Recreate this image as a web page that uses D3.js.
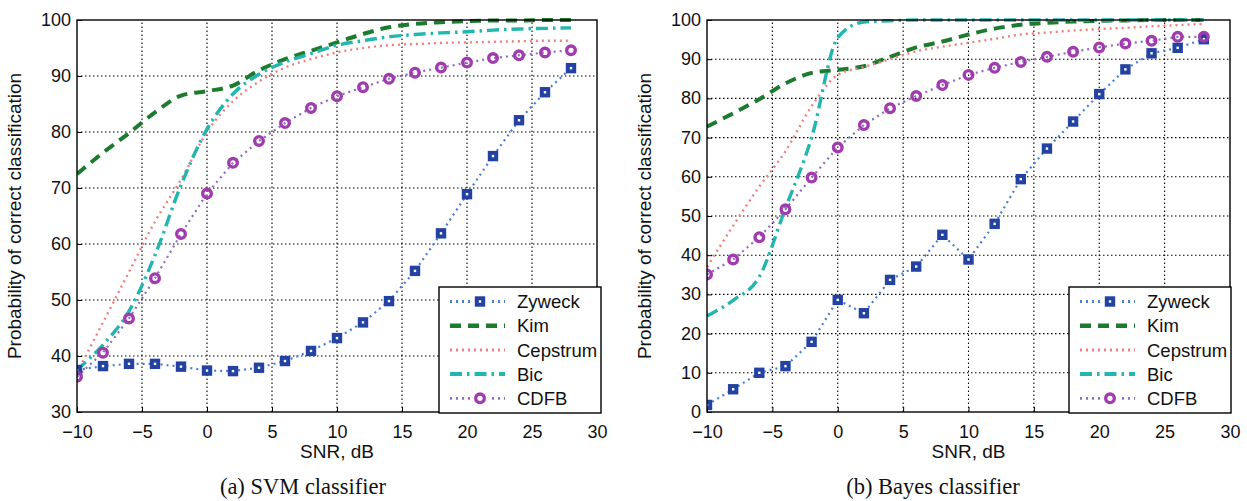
<!DOCTYPE html>
<html><head><meta charset="utf-8">
<script src="https://cdn.jsdelivr.net/npm/d3@7"></script>
<style>
body{margin:0;background:#fff;}
svg{display:block;font-family:"Liberation Sans",Arial,Helvetica,sans-serif;}
</style>
</head><body>
<svg id="chart" width="1247" height="501"></svg>
<script>
// ---------------- data ----------------
const snr = [-10,-8,-6,-4,-2,0,2,4,6,8,10,12,14,16,18,20,22,24,26,28];
const seriesNames = ["Zyweck","Kim","Cepstrum","Bic","CDFB"];
const xTickValues = [-10,-5,0,5,10,15,20,25,30];
const yTicksSvm = [30,40,50,60,70,80,90,100];
const yTicksBayes = [0,10,20,30,40,50,60,70,80,90,100];
const captions = ["(a) SVM classifier","(b) Bayes classifier"];
const xLabel = "SNR, dB";
const yLabel = "Probability of correct classification";

// (a) SVM classifier
const svmZyweck   = [37.5,38.2,38.6,38.6,38.1,37.4,37.3,37.9,39.1,40.9,43.2,46.0,49.8,55.2,61.9,68.9,75.7,82.1,87.1,91.4];
const svmKim      = [72.5,76.3,79.8,83.5,86.5,87.3,88.3,91.0,93.0,94.5,96.0,97.5,98.7,99.3,99.6,99.8,99.9,99.9,100,100];
const svmCepstrum = [37.0,46.0,55.0,64.0,71.5,80.0,85.5,89.0,91.5,93.0,94.2,95.0,95.5,95.7,95.9,96.0,96.1,96.2,96.3,96.3];
const svmBic      = [37.5,42.0,48.0,58.0,70.5,80.5,86.8,90.3,92.5,94.0,95.5,96.3,97.0,97.4,97.7,97.9,98.2,98.4,98.5,98.6];
const svmCdfb     = [36.3,40.6,46.7,53.9,61.8,69.0,74.5,78.4,81.6,84.3,86.4,88.0,89.5,90.6,91.5,92.4,93.2,93.7,94.2,94.6];

// (b) Bayes classifier
const bayesZyweck   = [1.8,5.8,10.0,11.7,17.9,28.6,25.2,33.7,37.1,45.2,38.9,48.0,59.4,67.2,74.1,81.1,87.4,91.5,92.9,95.1];
const bayesKim      = [72.8,76.2,79.8,83.8,86.5,87.3,88.2,90.6,93.0,94.5,96.3,97.8,98.8,99.3,99.6,99.8,99.9,100,100,100];
const bayesCepstrum = [37.0,47.5,57.5,66.5,78.0,86.0,88.0,90.0,92.0,93.2,94.2,95.2,96.3,96.8,97.3,97.7,98.0,98.4,98.7,99.0];
const bayesBic      = [24.5,28.5,34.5,52.0,70.0,95.5,99.5,99.8,100,100,100,100,100,100,100,100,100,100,100,100];
const bayesCdfb     = [35.1,38.9,44.6,51.7,59.8,67.5,73.2,77.5,80.6,83.4,86.0,87.8,89.3,90.6,91.9,93.0,94.0,94.7,95.7,95.7];

// ---------------- styles ----------------
const styles = {
  Zyweck:   {color:"#4a7ed6", width:2.2, dash:"2,4", curve:d3.curveLinear, marker:"square", mcolor:"#2342a2"},
  Kim:      {color:"#1c7b2e", width:4, dash:"11,7", curve:d3.curveMonotoneX},
  Cepstrum: {color:"#ee8080", width:2.4, dash:"2,4", curve:d3.curveMonotoneX},
  Bic:      {color:"#22b6ae", width:3.4, dash:"12,5,2.5,5", curve:d3.curveMonotoneX},
  CDFB:     {color:"#8d6cc4", width:2.2, dash:"2,4", curve:d3.curveLinear, marker:"circle", mcolor:"#a03cae"}
};

const panels = [
  {xr:[77,597], yr:[412,20], ydom:[30,100], yticks:yTicksSvm, capX:303, legX:439,
   data:{Zyweck:svmZyweck, Kim:svmKim, Cepstrum:svmCepstrum, Bic:svmBic, CDFB:svmCdfb}},
  {xr:[707,1230], yr:[412,20], ydom:[0,100], yticks:yTicksBayes, capX:933, legX:1069,
   data:{Zyweck:bayesZyweck, Kim:bayesKim, Cepstrum:bayesCepstrum, Bic:bayesBic, CDFB:bayesCdfb}}
];

const svg = d3.select("#chart");
const fmt = v => (v < 0 ? "\u2212" + Math.abs(v) : String(v));

function drawMarker(g, type, x, y, color){
  if(type === "square"){
    g.append("rect").attr("x", x-3.2).attr("y", y-3.2).attr("width", 6.4).attr("height", 6.4)
      .attr("fill","#fff").attr("stroke", color).attr("stroke-width", 4);
  } else if(type === "circle"){
    g.append("circle").attr("cx", x).attr("cy", y).attr("r", 4.3)
      .attr("fill","none").attr("stroke", color).attr("stroke-width", 3.4);
  }
}

panels.forEach((p, pi) => {
  const x = d3.scaleLinear().domain([-10,30]).range(p.xr);
  const y = d3.scaleLinear().domain(p.ydom).range(p.yr);
  const g = svg.append("g");
  const clipId = "clip" + pi;
  svg.append("clipPath").attr("id", clipId).append("rect")
    .attr("x", p.xr[0]).attr("y", p.yr[1]-2).attr("width", p.xr[1]-p.xr[0]+2).attr("height", p.yr[0]-p.yr[1]+2);

  // grid
  const grid = g.append("g").attr("stroke","#000").attr("stroke-width",1.1).attr("stroke-dasharray","1.5,2.5");
  xTickValues.slice(1,-1).forEach(t => grid.append("line").attr("x1",x(t)).attr("x2",x(t)).attr("y1",p.yr[0]).attr("y2",p.yr[1]));
  p.yticks.slice(1,-1).forEach(t => grid.append("line").attr("y1",y(t)).attr("y2",y(t)).attr("x1",p.xr[0]).attr("x2",p.xr[1]));

  // axes via d3
  const xAxis = d3.axisBottom(x).tickValues(xTickValues).tickFormat(fmt).tickSize(-5).tickPadding(13);
  const yAxis = d3.axisLeft(y).tickValues(p.yticks).tickFormat(fmt).tickSize(-5).tickPadding(6);
  const gx = g.append("g").attr("transform",`translate(0,${p.yr[0]})`).call(xAxis);
  const gy = g.append("g").attr("transform",`translate(${p.xr[0]},0)`).call(yAxis);
  [gx, gy].forEach(a => {
    a.select(".domain").remove();
    a.selectAll("line").attr("stroke","#000").attr("stroke-width",1);
    a.selectAll("text").attr("fill","#111").style("font-size","18px");
  });
  gy.selectAll("text").attr("dy","0.3em");

  // lines
  const lg = g.append("g").attr("clip-path", `url(#${clipId})`);
  seriesNames.forEach(name => {
    const st = styles[name];
    const vals = p.data[name];
    const pts = snr.map((s,i) => [s, vals[i]]);
    const line = d3.line().x(d => x(d[0])).y(d => y(d[1])).curve(st.curve);
    lg.append("path").attr("d", line(pts)).attr("fill","none")
      .attr("stroke", st.color).attr("stroke-width", st.width).attr("stroke-dasharray", st.dash)
      .attr("stroke-linecap","butt");
  });
  seriesNames.forEach(name => {
    const st = styles[name];
    if(!st.marker) return;
    const vals = p.data[name];
    snr.forEach((s,i) => drawMarker(lg, st.marker, x(s), y(vals[i]), st.mcolor));
  });

  // frame
  g.append("rect").attr("x",p.xr[0]).attr("y",p.yr[1]).attr("width",p.xr[1]-p.xr[0]).attr("height",p.yr[0]-p.yr[1])
    .attr("fill","none").attr("stroke","#000").attr("stroke-width",1.4);

  // labels
  g.append("text").attr("x",(p.xr[0]+p.xr[1])/2).attr("y",458).attr("text-anchor","middle")
    .style("font-size","19px").attr("fill","#111").text(xLabel);
  const ylx = p.xr[0] - 56;
  g.append("text").attr("transform",`translate(${ylx},${(p.yr[0]+p.yr[1])/2}) rotate(-90)`)
    .attr("text-anchor","middle").style("font-size","19px").attr("fill","#111").text(yLabel);
  g.append("text").attr("x",p.capX).attr("y",494).attr("text-anchor","middle")
    .style("font-family",'"Liberation Serif","Times New Roman",serif').style("font-size","22.5px")
    .attr("fill","#111").text(captions[pi]);

  // legend
  const lgd = g.append("g").attr("transform",`translate(${p.legX},287)`);
  lgd.append("rect").attr("width",162).attr("height",126).attr("fill","#fff").attr("stroke","#000").attr("stroke-width",1.4);
  seriesNames.forEach((name,i) => {
    const st = styles[name];
    const ry = 14.5 + i*24.2;
    lgd.append("line").attr("x1",11).attr("x2",66).attr("y1",ry).attr("y2",ry)
      .attr("stroke", st.color).attr("stroke-width", st.width+0.6).attr("stroke-dasharray", st.dash);
    if(st.marker) {
      lgd.append("rect").attr("x",33).attr("y",ry-8).attr("width",16).attr("height",16).attr("fill","#fff");
      drawMarker(lgd, st.marker, 41, ry, st.mcolor);
    }
    lgd.append("text").attr("x",78).attr("y",ry).attr("dy","0.36em").style("font-size","18.5px")
      .attr("fill","#111").text(name);
  });
});
</script>
</body></html>
